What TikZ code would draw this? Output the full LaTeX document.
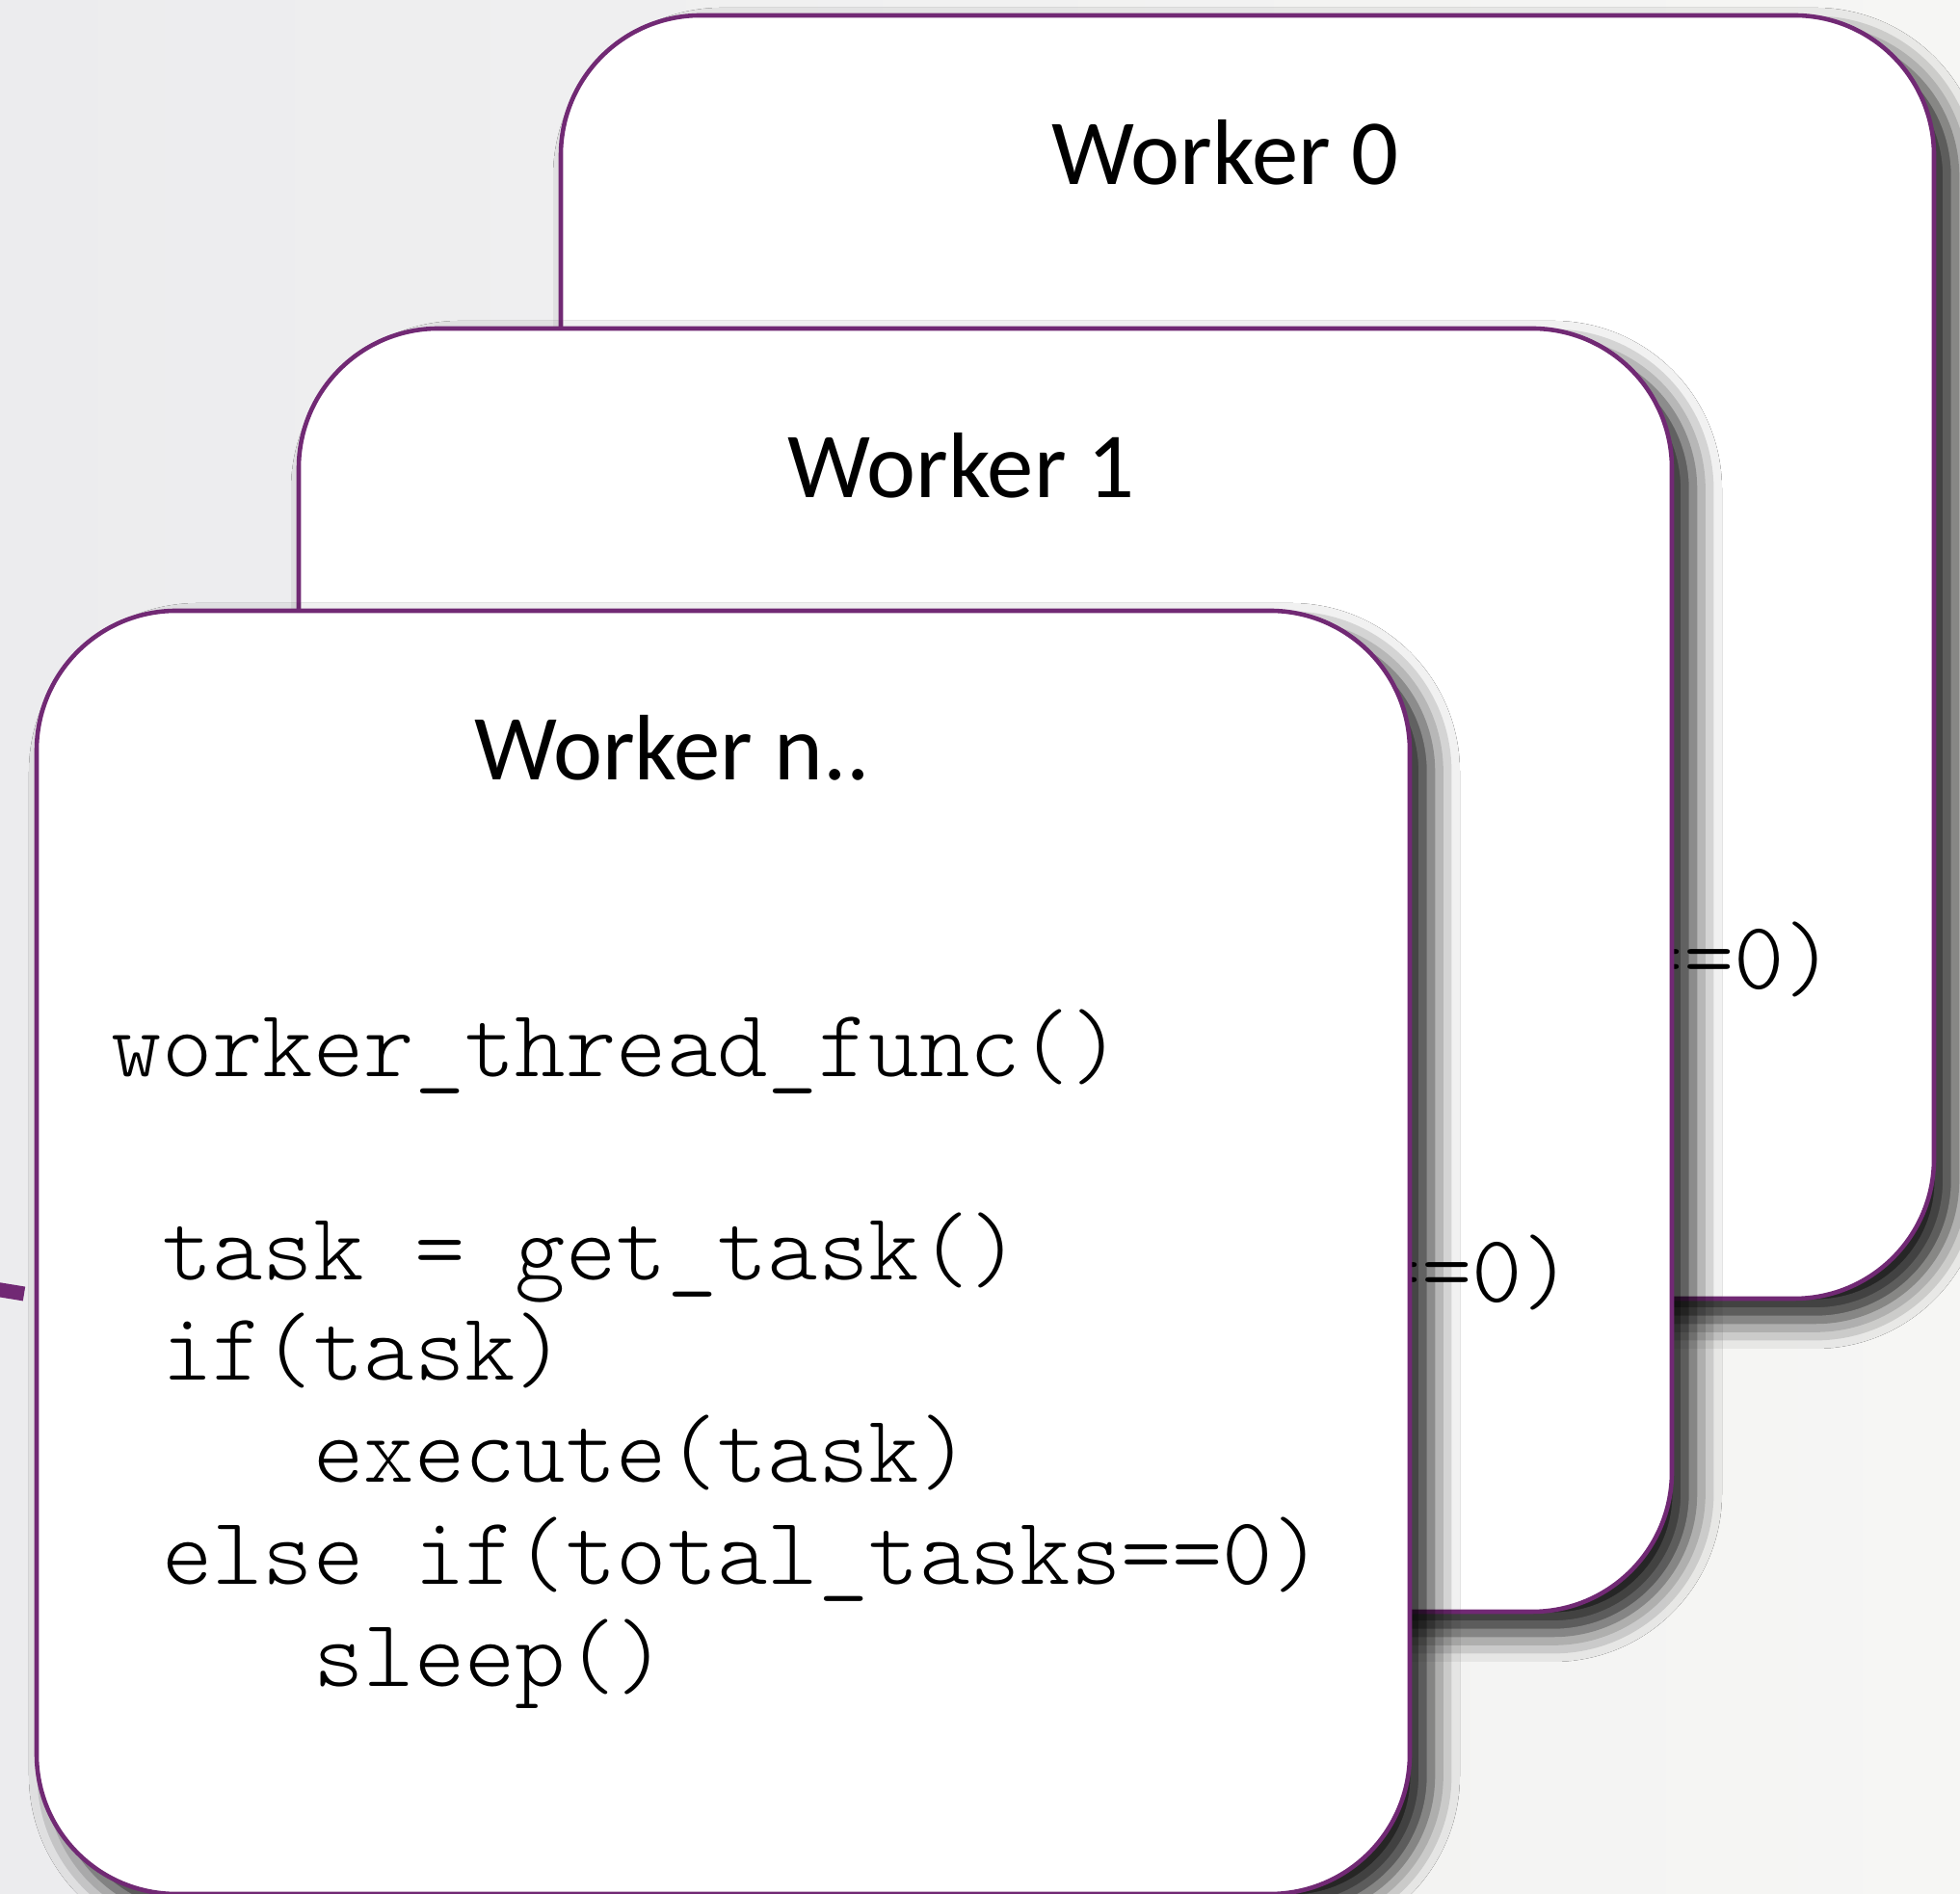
\documentclass[tikz,border=0pt]{standalone}
\usepackage{fontspec}
\newfontfamily\titlefont{Carlito}
\usetikzlibrary{calc,shadows.blur}
\definecolor{cardline}{RGB}{113,41,116}
\definecolor{bgleft}{RGB}{236,236,238}
\definecolor{bgright}{RGB}{246,246,244}
\tikzset{
  card/.style={draw=cardline, line width=1.3pt, fill=white, rounded corners=1.45cm,
    minimum width=14.25cm, minimum height=13.32cm, inner sep=0pt, outer sep=0pt, anchor=north west,
    blur shadow={shadow xshift=0.22cm, shadow yshift=-0.22cm, shadow blur radius=0.3cm, shadow opacity=90}},
  cardtitle/.style={font=\titlefont\fontsize{27.5}{33}\selectfont, anchor=base, inner sep=0pt},
  codeline/.style={font=\ttfamily\fontseries{l}\fontsize{28.4}{34}\selectfont, anchor=base west, inner sep=0pt},
  link/.style={draw=cardline, line width=0.15cm}
}
\begin{document}
\begin{tikzpicture}
\useasboundingbox (0,0) rectangle (20.34,19.66);
\shade[left color=bgleft, right color=bgright] (0,0) rectangle (20.34,19.66);
\clip (0,0) rectangle (20.34,19.66);
\coordinate (linkin) at (-0.3,6.32);
\coordinate (linkend) at (0.25,6.23);
\draw[link] (linkin) -- (linkend);
% back cards, only the tail of one code line shows
\foreach \nm/\px/\py/\ttl/\tx in {card0/5.82/19.50/Worker 0/-0.23, card1/3.10/16.25/Worker 1/-0.25}{
  \node[card] (\nm) at (\px,\py) {};
  \node[cardtitle] (\nm-title) at ($(\nm.north)+(\tx,-1.76)$) {\ttl};
  \node[codeline, anchor=base east] (\nm-tail) at ($(\nm.north west)+(13.23,-10.11)$) {==0)};
}
% front card
\node[card] (card2) at (0.38,13.32) {};
\node[cardtitle] (card2-title) at ($(card2.north)+(-0.53,-1.76)$) {Worker n..};
\foreach \dy/\txt [count=\i] in {4.84/{worker\_thread\_func()},
    6.95/{\phantom{x}task = get\_task()},
    7.99/{\phantom{x}if(task)},
    9.05/{\phantom{xxxx}execute(task)},
    10.11/{\phantom{x}else if(total\_tasks==0)},
    11.17/{\phantom{xxxx}sleep()}}
  \node[codeline] (card2-code\i) at ($(card2.north west)+(0.77,-\dy)$) {\txt};
\end{tikzpicture}
\end{document}
